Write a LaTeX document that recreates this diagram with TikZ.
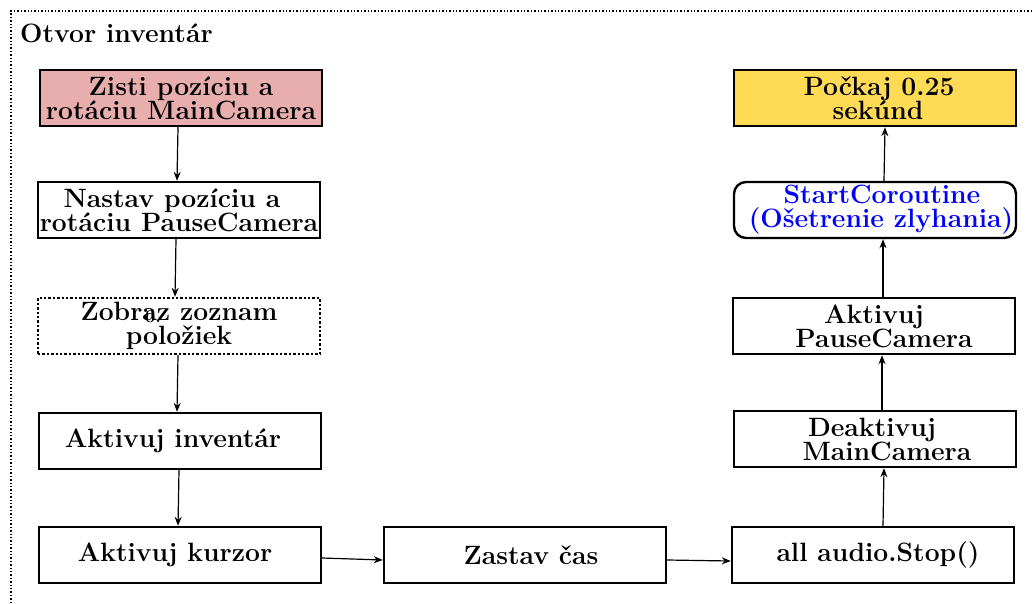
\documentclass[tikz,border=0pt]{standalone}
\usepackage{fontspec}
\usetikzlibrary{arrows.meta}
\definecolor{pinkfill}{RGB}{232,174,174}
\definecolor{yellowfill}{RGB}{255,218,85}
\begin{document}
\begin{tikzpicture}[x=1pt,y=-1pt,
  box/.style={draw=black,line width=2.4pt,minimum width=282pt,minimum height=56pt,align=center,inner sep=0pt,
    font=\fontsize{26.5}{24}\selectfont\bfseries},
  arr/.style={-{Stealth[length=9pt,width=7pt]},line width=1.2pt}]
\useasboundingbox (0,0) rectangle (1033,603);
\draw[dotted,line width=1.4pt] (11,603) -- (11,11) -- (1033,11);
\node[anchor=west,font=\fontsize{26.5}{24}\selectfont\bfseries,inner sep=0pt] (title) at (20,33) {Otvor inventár};
\node[box,fill=pinkfill] (zisti) at (181,98) {Zisti pozíciu a\\rotáciu MainCamera};
\node[box] (nastav) at (179,210) {Nastav pozíciu a\hspace*{14pt}\\rotáciu PauseCamera};
\node[box,dotted] (zobraz) at (179,326) {Zobraz zoznam\\položiek};
\node[font=\fontsize{18}{18}\selectfont\bfseries,inner sep=0pt] (zero) at (153,317) {0.};
\node[box] (aktinv) at (180,441) {Aktivuj inventár\hspace*{14pt}};
\node[box] (kurzor) at (180,555) {Aktivuj kurzor\hspace*{10pt}};
\node[box] (zastav) at (525,555) {\hspace*{12pt}Zastav čas};
\node[box] (audio) at (873,555) {\hspace*{10pt}all audio.Stop()};
\node[box] (deakt) at (875,439) {Deaktivuj\hspace*{6pt}\\\hspace*{24pt}MainCamera};
\node[box] (aktpc) at (874,326) {Aktivuj\\\hspace*{20pt}PauseCamera};
\node[box,rounded corners=12pt,text=blue] (start) at (875,210) {\hspace*{14pt}StartCoroutine\\\hspace*{12pt}(Ošetrenie zlyhania)};
\node[box,fill=yellowfill] (pockaj) at (875,98) {\hspace*{8pt}Počkaj 0.25\\\hspace*{6pt}sekúnd};
\draw[arr] ([xshift=-3pt]zisti.south) -- ([xshift=-2pt]nastav.north);
\draw[arr] ([xshift=-3pt]nastav.south) -- ([xshift=-4pt]zobraz.north);
\draw[arr] ([xshift=-1pt]zobraz.south) -- ([xshift=-3pt]aktinv.north);
\draw[arr] ([xshift=-1pt]aktinv.south) -- ([xshift=-2pt]kurzor.north);
\draw[arr] ([yshift=-3pt]kurzor.east) -- ([yshift=-5pt]zastav.west);
\draw[arr] ([yshift=-5pt]zastav.east) -- ([yshift=-6pt]audio.west);
\draw[arr] ([xshift=10pt]audio.north) -- ([xshift=9pt]deakt.south);
\draw[arr] ([xshift=7pt]deakt.north) -- ([xshift=8pt]aktpc.south);
\draw[arr] ([xshift=9pt]aktpc.north) -- ([xshift=8pt]start.south);
\draw[arr] ([xshift=9pt]start.north) -- ([xshift=10pt]pockaj.south);
\end{tikzpicture}
\end{document}
